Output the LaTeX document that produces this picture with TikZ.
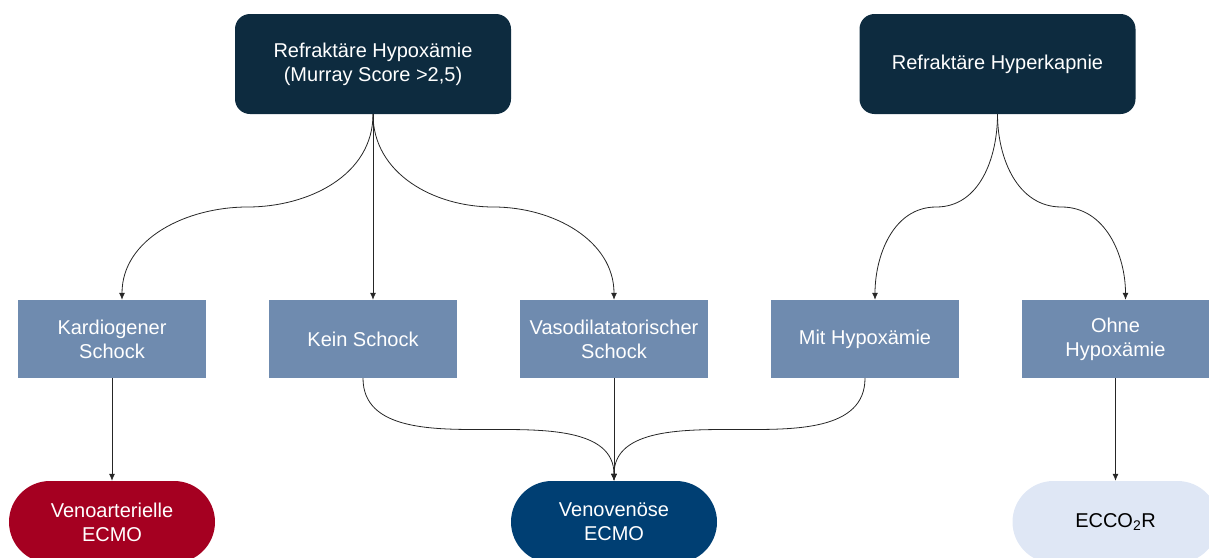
\documentclass[tikz,border=0pt]{standalone}
\usepackage{fontspec}
\setmainfont{Liberation Sans}
\usetikzlibrary{arrows.meta,calc}

\definecolor{nachtblau}{HTML}{0D2B3F}
\definecolor{stahlblau}{HTML}{6F8BAF}
\definecolor{vared}{HTML}{A50021}
\definecolor{vvblau}{HTML}{003F73}
\definecolor{hellblau}{HTML}{DFE7F5}

\tikzset{
  haupt/.style={fill=nachtblau, text=white, rounded corners=15pt, inner sep=0pt,
    minimum width=276pt, minimum height=100pt, align=center},
  zweig/.style={fill=stahlblau, text=white, inner sep=0pt,
    minimum width=188pt, minimum height=78pt, align=center},
  ziel/.style={rounded corners=41pt, inner sep=0pt,
    minimum width=206pt, minimum height=82pt, align=center},
  pfeil/.style={draw=black!85, line width=0.8pt, -{Latex[length=7pt,width=6pt]}}
}

\begin{document}
\begin{tikzpicture}[x=1pt,y=1pt,font=\fontsize{20}{24}\selectfont]
\useasboundingbox (0,0) rectangle (1209,-557);
\clip (0,0) rectangle (1209,-557);

% obere Ebene
\node[haupt] (hypox) at (373,-64) {Refraktäre Hypoxämie\\(Murray Score >2,5)};
\node[haupt] (hyperk) at (997.5,-64) {Refraktäre Hyperkapnie};

% mittlere Ebene
\node[zweig] (kardio) at (112,-339) {Kardiogener\\Schock};
\node[zweig] (kein) at (363,-339) {Kein Schock};
\node[zweig] (vaso) at (614,-339) {Vasodilatatorischer\\Schock};
\node[zweig] (mithyp) at (865,-339) {Mit Hypoxämie};
\node[zweig] (ohnehyp) at (1115.5,-339) {Ohne\\Hypoxämie};

% untere Ebene
\node[ziel, fill=vared, text=white] (va) at (112,-522) {Venoarterielle\\ECMO};
\node[ziel, fill=vvblau, text=white] (vv) at (614,-522) {Venovenöse\\ECMO};
\node[ziel, fill=hellblau, text=black] (eccor) at (1115.5,-522) {ECCO\textsubscript{2}R};

% Hypoxaemie
\coordinate (kardioin) at ([xshift=10pt]kardio.north);
\draw[pfeil] (hypox.south) to[out=-90,in=0] ($(hypox.south)!0.5!(kardioin)$)
  to[out=180,in=90] (kardioin);
\draw[pfeil] (hypox.south) -- ([xshift=10pt]kein.north);
\draw[pfeil] (hypox.south) to[out=-90,in=180] ($(hypox.south)!0.5!(vaso.north)$)
  to[out=0,in=90] (vaso.north);

% Hyperkapnie
\coordinate (mitin) at ([xshift=10pt]mithyp.north);
\coordinate (ohnein) at ([xshift=10pt]ohnehyp.north);
\draw[pfeil] (hyperk.south) to[out=-90,in=0] ($(hyperk.south)!0.5!(mitin)$)
  to[out=180,in=90] (mitin);
\draw[pfeil] (hyperk.south) to[out=-90,in=180] ($(hyperk.south)!0.5!(ohnein)$)
  to[out=0,in=90] (ohnein);

% zu den Verfahren
\draw[pfeil] (kardio.south) -- (va.north);
\draw[pfeil] (kein.south) to[out=-90,in=180] ($(kein.south)!0.5!(vv.north)$)
  to[out=0,in=90] (vv.north);
\draw[pfeil] (vaso.south) -- (vv.north);
\draw[pfeil] (mithyp.south) to[out=-90,in=0] ($(mithyp.south)!0.5!(vv.north)$)
  to[out=180,in=90] (vv.north);
\draw[pfeil] (ohnehyp.south) -- (eccor.north);
\end{tikzpicture}
\end{document}
